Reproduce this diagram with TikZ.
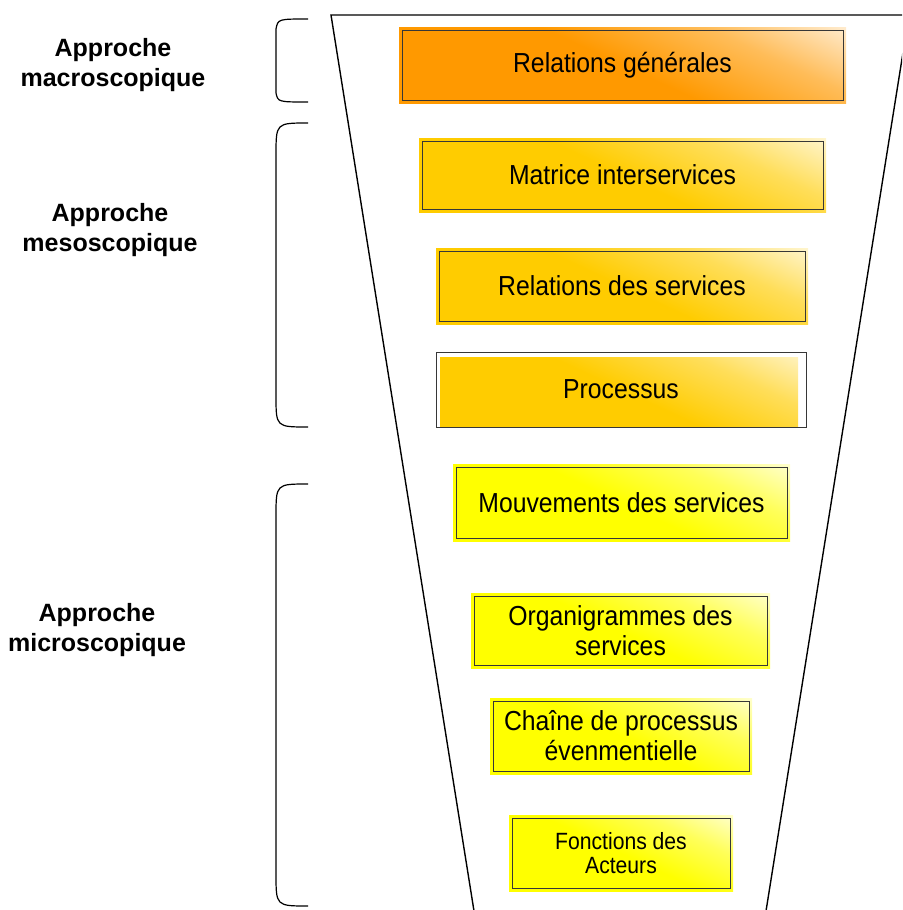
\documentclass[tikz,border=0pt]{standalone}
\usepackage{fontspec}
\setmainfont{Liberation Sans}
\newfontfamily\boxfont[FakeStretch=0.9]{Liberation Sans}
\usepackage{tikz}
\usetikzlibrary{calc}
\definecolor{corange}{RGB}{255,153,0}
\definecolor{cgold}{RGB}{255,204,0}
\definecolor{cjaune}{RGB}{255,255,0}
\definecolor{cbord}{RGB}{55,55,55}
\colorlet{cfond}{corange}
\pgfdeclareverticalshading[cfond]{coin}{100bp}{%
  color(0bp)=(cfond); color(50bp)=(cfond);
  color(68bp)=(cfond!65!white); color(88bp)=(cfond!5!white);
  color(100bp)=(cfond!5!white)}
\tikzset{
  niveau/.style={
    inner sep=0pt, align=center,
    font=\boxfont\fontsize{27.5}{30}\selectfont,
    /utils/exec={\colorlet{cfond}{#1}},
    shade, shading=coin, shading angle=-25,
    path picture={\draw[cbord, line width=1pt]
      ([shift={(3pt,-3pt)}]path picture bounding box.north west) rectangle
      ([shift={(-3pt,3pt)}]path picture bounding box.south east);}
  },
  niveaubis/.style={
    inner sep=0pt, align=center, draw=cbord, line width=0.8pt, fill=white,
    font=\boxfont\fontsize{27.5}{30}\selectfont,
    /utils/exec={\colorlet{cfond}{#1}},
    path picture={\shade[shading=coin, shading angle=-25]
      ([shift={(4pt,-5pt)}]path picture bounding box.north west) rectangle
      ([shift={(-8pt,0pt)}]path picture bounding box.south east);}
  },
  approche/.style={font=\fontsize{25}{30}\selectfont\bfseries, align=center},
  accolade/.style={line width=1.2pt},
  entonnoir/.style={line width=1.4pt}
}

\begin{document}
\begin{tikzpicture}[x=1pt,y=-1pt]
  \useasboundingbox (0,0) rectangle (902,910);
  \clip (0,0) rectangle (902,910);

  % entonnoir
  \draw[entonnoir] (474,911) -- (331,15) -- (910,15);
  \draw[entonnoir] (909,15) -- (766,911);

  % accolades
  \draw[accolade] (308,19) .. controls (278,19) .. (276,29)
    -- (276,93) .. controls (278,102) .. (308,102);
  \draw[accolade] (308,123) .. controls (276,123) .. (276,155)
    -- (276,396) .. controls (276,427) .. (308,427);
  \draw[accolade] (308,484) .. controls (276,484) .. (276,516)
    -- (276,874) .. controls (276,906) .. (308,906);

  \node[approche] (macro) at (113,65) {Approche\\macroscopique};
  \node[approche] (meso)  at (110,230) {Approche\\mesoscopique};
  \node[approche] (micro) at (97,630) {Approche\\microscopique};

  \node[niveau=corange, minimum width=447, minimum height=76] (relgen) at (622.5,65)
    {Relations générales};
  \node[niveau=cgold, minimum width=407, minimum height=74] (matrice) at (622.5,175)
    {Matrice interservices};
  \node[niveau=cgold, minimum width=372, minimum height=76] (relserv) at (622,286)
    {Relations des services};
  \node[niveaubis=cgold, minimum width=370, minimum height=75] (processus) at (621,389.5)
    {Processus};
  \node[niveau=cjaune, minimum width=337, minimum height=77] (mouv) at (621.5,502.5)
    {Mouvements des services};
  \node[niveau=cjaune, minimum width=299, minimum height=75] (organi) at (620.5,630.5)
    {Organigrammes des\\services};
  \node[niveau=cjaune, minimum width=262, minimum height=76] (chaine) at (621,736)
    {Chaîne de processus\\évenmentielle};
  \node[niveau=cjaune, minimum width=224, minimum height=76,
    font=\boxfont\fontsize{23.5}{24}\selectfont] (fonctions) at (621,853)
    {Fonctions des\\Acteurs};
\end{tikzpicture}
\end{document}
